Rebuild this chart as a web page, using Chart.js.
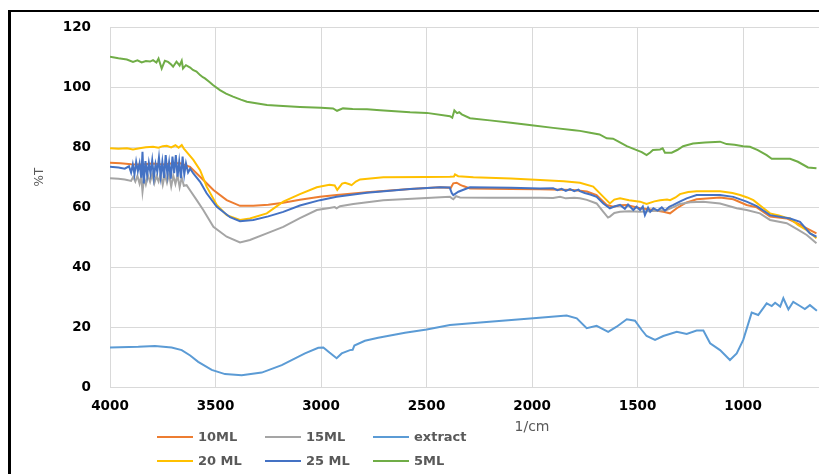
<!DOCTYPE html>
<html>
<head>
<meta charset="utf-8">
<script src="https://cdn.jsdelivr.net/npm/chart.js@4/dist/chart.umd.min.js"></script>
<style>
  html, body { margin: 0; padding: 0; background: #fff; overflow: hidden; }
  .wrap { position: relative; width: 819px; height: 474px; overflow: hidden; }
  .frame { position: absolute; left: 8px; top: 10px; width: 1000px; height: 1000px;
           border-left: 3px solid #000; border-top: 2px solid #000; }
  canvas { position: absolute; left: 0; top: 0; }
  .legend_item { position: absolute; height: 20px; font: bold 13px "DejaVu Sans", sans-serif;
                 color: #595959; white-space: nowrap; }
  .legend_item span.swatch { position: absolute; left: 0; top: 9px; width: 36px; height: 2px; }
  .legend_item span.txt { position: absolute; left: 41px; top: 2px; }
</style>
</head>
<body>
<div class="wrap">
  <div class="frame"></div>
  <canvas id="myChart" width="819" height="474"></canvas>
  <div id="legend"></div>
</div>
<script>
// series names, in the order excel had them
const seriesNames = ['10ML', '15ML', 'extract', '20 ML', '25 ML', '5ML']
const seriesColors = ['#ED7D31', '#A5A5A5', '#5B9BD5', '#FFC000', '#4472C4', '#70AD47']

const xTicks = [4000, 3500, 3000, 2500, 2000, 1500, 1000]
const xTitle = '1/cm'
const yTitle = '%T'

// [wavenumber, %T]
const ml10 = [[4000,74.8],[3950,74.6],[3900,74.3],[3850,74.2],[3800,74.5],[3750,74.2],[3700,74.6],[3668,74.6],
  [3621,73.4],[3573,70.1],[3510,65.7],[3447,62.3],[3384,60.4],[3321,60.4],[3250,60.8],[3179,61.4],[3100,62.4],
  [3005,63.4],[2926,64],[2783,64.9],[2578,66],[2436,66.6],[2385,66.4],[2373,67.9],[2357,68.1],[2340,67.4],
  [2326,67],[2294,66.2],[2100,66],[1962,65.9],[1806,65.7],[1740,65.2],[1694,64],[1646,60.7],[1615,60.1],
  [1580,60.6],[1551,60.7],[1488,59.6],[1440,59.2],[1378,58.4],[1346,57.9],[1314,59.6],[1270,61.5],[1220,62.6],
  [1109,63.2],[1046,62.6],[983,60.7],[935,59.9],[872,56.8],[793,56.2],[740,54.5],[698,52.9],[652,51.2]]

const ml15 = [[4000,69.6],[3960,69.4],[3930,69.2],[3900,68.7],[3890,70.1],[3880,68.5],[3870,70.4],[3860,67.8],
  [3852,70.2],[3846,65.1],[3838,69.8],[3830,67.6],[3820,70.6],[3810,68.4],[3800,70.9],[3790,67.9],[3780,70.3],
  [3770,68.5],[3760,71.2],[3750,67.4],[3740,70.8],[3730,68.1],[3720,71],[3710,66.9],[3700,70.5],[3690,67.7],
  [3680,70.7],[3670,66.6],[3660,69.9],[3650,67.1],[3637,67.3],[3620,65.5],[3589,62.3],[3558,59],[3510,53.4],
  [3447,50.1],[3384,48.2],[3337,49],[3257,51.2],[3179,53.4],[3100,56.3],[3020,59],[2960,59.7],[2935,60],
  [2926,59.6],[2910,60.3],[2847,61],[2705,62.3],[2500,63],[2389,63.4],[2373,62.6],[2360,63.6],[2341,63.2],
  [2200,63.1],[1962,63.1],[1900,63],[1867,63.4],[1840,62.9],[1800,63.1],[1773,62.9],[1740,62.4],[1694,61.2],
  [1662,58.4],[1640,56.5],[1631,56.8],[1610,58],[1583,58.4],[1540,58.6],[1488,58.4],[1430,58.7],[1362,59],
  [1330,60],[1299,61],[1250,61.6],[1189,61.8],[1109,61.2],[1030,59.6],[983,59],[920,57.9],[872,55.7],
  [793,54.6],[740,52.5],[698,50.7],[652,47.9]]

const extract = [[4000,13.2],[3866,13.4],[3787,13.7],[3708,13.2],[3660,12.3],[3620,10.5],[3582,8.4],[3518,5.7],
  [3455,4.3],[3376,3.9],[3281,4.8],[3186,7.3],[3076,11.2],[3013,13.1],[2989,13.2],[2960,11.5],[2926,9.6],
  [2902,11.2],[2863,12.3],[2850,12.4],[2842,13.8],[2792,15.4],[2729,16.4],[2602,18.1],[2499,19.2],[2389,20.7],
  [2231,21.6],[1994,22.9],[1836,23.8],[1788,22.9],[1741,19.6],[1694,20.4],[1639,18.4],[1599,20.1],[1551,22.6],
  [1512,22.1],[1480,19],[1457,17],[1417,15.7],[1378,17],[1314,18.4],[1267,17.7],[1220,18.8],[1188,18.8],
  [1156,14.6],[1109,12.3],[1062,9],[1030,11.2],[999,15.7],[959,24.8],[928,24],[888,27.9],[864,27],[848,28.1],
  [824,26.8],[809,29.6],[785,25.9],[762,28.4],[730,27],[707,26],[683,27.3],[650,25.4]]

const ml20 = [[4000,79.6],[3960,79.4],[3920,79.6],[3891,79.2],[3860,79.6],[3830,79.9],[3796,80.1],[3770,79.8],
  [3750,80.3],[3731,80.4],[3710,79.9],[3690,80.6],[3675,79.8],[3660,80.7],[3650,79.5],[3637,78.4],[3605,75.7],
  [3573,72.3],[3542,66.8],[3494,60.7],[3447,57.3],[3384,55.7],[3337,56.2],[3257,57.9],[3179,61.8],[3100,64.3],
  [3020,66.6],[2960,67.4],[2935,67.2],[2923,65.7],[2900,67.8],[2886,68.1],[2865,67.6],[2855,67.3],[2835,68.5],
  [2815,69.2],[2705,69.9],[2500,70],[2389,70.1],[2370,70.2],[2365,70.9],[2350,70.3],[2278,69.9],[2100,69.5],
  [1962,69],[1850,68.6],[1773,68.1],[1710,66.8],[1662,63.4],[1631,61.2],[1610,62.5],[1583,62.9],[1540,62.3],
  [1488,61.8],[1457,61],[1420,61.9],[1393,62.3],[1360,62.5],[1346,62.3],[1320,63.2],[1299,64.3],[1260,65],
  [1220,65.3],[1109,65.3],[1050,64.7],[1014,64],[980,63.2],[951,62.3],[910,60],[872,57.9],[830,57.2],
  [800,56.5],[777,56.2],[740,54],[698,52.3],[652,49.6]]

const ml25 = [[4000,73.4],[3960,73.2],[3930,72.8],[3910,73.6],[3900,71.5],[3892,74.2],[3884,70.9],[3876,75.1],
  [3868,72],[3860,74.6],[3852,69.8],[3846,78.4],[3840,67.9],[3832,75.3],[3824,70.6],[3816,74.8],[3808,71.2],
  [3800,75.6],[3792,69.9],[3784,74.4],[3776,71.8],[3768,76.5],[3760,70.3],[3752,75.1],[3744,69.7],[3736,77.3],
  [3728,70.8],[3720,74.9],[3712,69.5],[3704,76.8],[3696,71.3],[3688,77.3],[3680,70.1],[3672,75.2],[3664,69.6],
  [3656,76.8],[3648,70.9],[3640,74.6],[3630,71.5],[3620,72.8],[3605,71.2],[3573,68.4],[3542,64.6],[3494,60.1],
  [3431,56.6],[3384,55.3],[3321,55.7],[3250,56.9],[3179,58.4],[3100,60.5],[3005,62.3],[2926,63.4],[2783,64.8],
  [2578,66],[2436,66.6],[2390,66.5],[2380,64.6],[2373,64],[2349,65.1],[2310,66.2],[2294,66.6],[2100,66.4],
  [1962,66.2],[1900,66.3],[1880,65.6],[1860,66.1],[1840,65.4],[1820,66],[1800,65.3],[1780,65.8],[1773,65.3],
  [1750,64.7],[1720,64.1],[1694,63.4],[1662,61.2],[1631,59.6],[1610,60.2],[1583,60.7],[1560,59.4],[1545,60.8],
  [1520,59],[1505,60.1],[1488,59],[1475,60.2],[1465,57.3],[1450,59.8],[1440,58.4],[1425,59.6],[1405,58.8],
  [1385,59.9],[1370,58.8],[1350,60.1],[1330,60.7],[1300,61.8],[1267,62.9],[1220,64],[1109,64],[1046,63.4],
  [983,61.8],[935,60.3],[872,57.3],[777,56.2],[730,55.1],[683,51.2],[652,50.1]]

const ml5 = [[4000,110.1],[3960,109.6],[3920,109.2],[3891,108.4],[3870,108.9],[3850,108.2],[3830,108.7],
  [3810,108.5],[3796,109],[3780,108.2],[3770,109.5],[3755,106.2],[3740,108.8],[3725,108.4],[3710,107.5],
  [3701,106.8],[3685,108.5],[3670,107.2],[3660,108.8],[3654,106.2],[3640,107.3],[3620,106.5],[3607,105.7],
  [3590,105.2],[3573,104],[3560,103.3],[3550,102.9],[3530,101.8],[3512,100.7],[3479,99],[3450,97.8],
  [3417,96.8],[3380,95.8],[3351,95.1],[3300,94.5],[3256,94],[3200,93.8],[3100,93.4],[3000,93.1],[2943,92.9],
  [2924,92.1],[2896,92.9],[2850,92.7],[2782,92.6],[2720,92.3],[2578,91.6],[2499,91.4],[2389,90.3],[2378,89.8],
  [2368,92.2],[2355,91.3],[2345,91.6],[2333,90.9],[2294,89.6],[2200,88.9],[2100,88.1],[2002,87.3],[1900,86.4],
  [1800,85.6],[1773,85.4],[1725,84.8],[1680,84.2],[1646,82.9],[1616,82.8],[1590,81.8],[1551,80.3],[1504,79],
  [1480,78.3],[1457,77.3],[1440,78.2],[1427,79],[1393,79.2],[1381,79.6],[1370,78.1],[1338,78.1],[1310,79.1],
  [1284,80.3],[1237,81.2],[1180,81.5],[1109,81.8],[1078,81],[1040,80.8],[1000,80.3],[967,80.1],[930,79],
  [888,77.3],[864,76.1],[820,76.1],[777,76.1],[740,75.1],[692,73.2],[652,72.9]]

const allSeries = [ml10, ml15, extract, ml20, ml25, ml5]

const gridColor = '#D9D9D9'
const tickFont = { family: 'DejaVu Sans', size: 13.5, weight: 'bold' }

// axis titles sit off-center in the original, so draw them by hand
const axisTitles = {
  id: 'axisTitles',
  afterDraw(chart) {
    const ctx = chart.ctx
    const xs = chart.scales.x, ys = chart.scales.y
    ctx.save()
    ctx.fillStyle = '#595959'
    ctx.textAlign = 'center'
    ctx.textBaseline = 'middle'
    ctx.font = '14px "DejaVu Sans"'
    ctx.fillText(xTitle, xs.getPixelForValue(2000), 427)
    ctx.font = '12px "DejaVu Sans"'
    ctx.translate(40, ys.getPixelForValue(70))
    ctx.rotate(-Math.PI / 2)
    ctx.fillText(yTitle, 0, 0)
    ctx.restore()
  }
}

const ctx = document.getElementById('myChart').getContext('2d')
const myChart = new Chart(ctx, {
  type: 'line',
  data: {
    datasets: allSeries.map((s, i) => ({
      label: seriesNames[i],
      data: s.map(p => ({ x: p[0], y: p[1] })),
      borderColor: seriesColors[i],
      backgroundColor: seriesColors[i],
      borderWidth: 2,
      pointRadius: 0,
      tension: 0,
      fill: false,
      order: allSeries.length - i   // last series on top, like excel
    }))
  },
  options: {
    responsive: false,
    animation: false,
    devicePixelRatio: 1,
    layout: { padding: { top: 27, left: 0, right: 0, bottom: 0 } },
    plugins: { legend: { display: false }, tooltip: { enabled: false } },
    scales: {
      x: {
        type: 'linear',
        reverse: true,
        min: 640,
        max: 4000,
        afterBuildTicks: (scale) => { scale.ticks = xTicks.map(v => ({ value: v })) },
        afterFit: (scale) => { scale.height = 87 },
        grid: { color: gridColor, drawTicks: false },
        border: { color: gridColor },
        ticks: { color: '#000', font: tickFont, padding: 11, maxRotation: 0, autoSkip: false,
                 callback: (v) => String(v) }
      },
      y: {
        min: 0,
        max: 120,
        afterFit: (scale) => { scale.width = 110 },
        grid: { color: gridColor, drawTicks: false },
        border: { color: gridColor },
        ticks: { stepSize: 20, color: '#000', font: tickFont, padding: 19 }
      }
    }
  },
  plugins: [axisTitles]
})

// legend, 3 per row like the original
const legend = document.getElementById('legend')
seriesNames.forEach((name, i) => {
  const item = document.createElement('div')
  item.className = 'legend_item'
  item.style.left = (157 + (i % 3) * 108) + 'px'
  item.style.top = (427 + Math.floor(i / 3) * 24) + 'px'
  item.innerHTML = `<span class="swatch" style="background:${seriesColors[i]}"></span><span class="txt">${name}</span>`
  legend.appendChild(item)
})
</script>
</body>
</html>
